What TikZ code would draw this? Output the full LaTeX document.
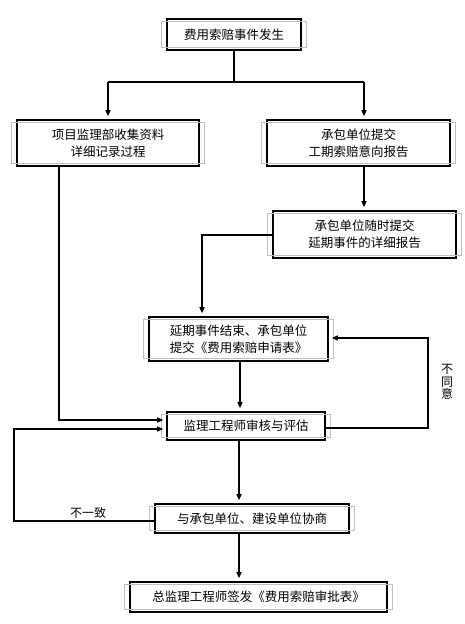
\documentclass[tikz,border=0pt]{standalone}
\usepackage{fontspec}
\setmainfont{Noto Sans CJK SC}
\usetikzlibrary{arrows.meta}
\begin{document}
\begin{tikzpicture}[x=1pt,y=-1pt,
  box/.style={draw=black, line width=2.6pt, fill=white, inner sep=0pt, align=center,
    font=\fontsize{12.5}{17}\selectfont},
  conn/.style={draw=black, line width=1.4pt},
  arr/.style={conn, -{Triangle[length=6pt,width=5pt]}, shorten >=2.5pt},
  lbl/.style={font=\fontsize{12}{12.5}\selectfont, inner sep=0pt, align=center}]
\useasboundingbox[fill=white] (0,0) rectangle (464,624);

\node[box, minimum width=134pt, minimum height=31pt] (b1) at (234,34.5) {费用索赔事件发生};
\node[box, minimum width=182pt, minimum height=46pt] (b2) at (108,143) {项目监理部收集资料\\详细记录过程};
\node[box, minimum width=183pt, minimum height=46pt] (b3) at (358.5,143) {承包单位提交\\工期索赔意向报告};
\node[box, minimum width=183pt, minimum height=47pt] (b4) at (364.5,234.5) {承包单位随时提交\\延期事件的详细报告};
\node[box, minimum width=179pt, minimum height=44pt] (b5) at (238.5,339) {延期事件结束、承包单位\\提交《费用索赔申请表》};
\node[box, minimum width=158pt, minimum height=28pt] (b6) at (246,426) {监理工程师审核与评估};
\node[box, minimum width=194pt, minimum height=29pt] (b7) at (252,518.5) {与承包单位、建设单位协商};
\node[box, minimum width=257pt, minimum height=30pt] (b8) at (258.5,597) {总监理工程师签发《费用索赔审批表》};

\foreach \n in {b1,b2,b3,b4,b5,b6,b7,b8}
  \draw[gray!50, line width=0.8pt] ([shift={(-4pt,-4pt)}]\n.north west) rectangle ([shift={(4pt,4pt)}]\n.south east);

\coordinate (jl) at (108,82);
\coordinate (jr) at (364,82);
\coordinate (c45) at (202,235);
\coordinate (c26) at (59,420);
\coordinate (x56) at (240,0);
\coordinate (x67) at (239,0);
\coordinate (r1) at (428,428);
\coordinate (r2) at (428,338);
\coordinate (l1) at (14,521);
\coordinate (l2) at (14,429);

\draw[conn] (b1.south) -- (b1.south |- jl);
\draw[conn] (jl) -- (jr);
\draw[arr] (jl) -- (b2.north -| jl);
\draw[arr] (jr) -- (b3.north -| jr);
\draw[arr] (b3.south -| jr) -- (b4.north -| jr);
\draw[arr] (b4.west |- c45) -- (c45) -- (b5.north -| c45);
\draw[arr] (b2.south -| c26) -- (c26) -- (b6.west |- c26);
\draw[arr] (b5.south -| x56) -- (b6.north -| x56);
\draw[arr] (b6.south -| x67) -- (b7.north -| x67);
\draw[arr] (b7.south -| x67) -- (b8.north -| x67);
\draw[arr] (b6.east |- r1) -- (r1) -- (r2) -- (b5.east |- r2);
\draw[arr] (b7.west |- l1) -- (l1) -- (l2) -- (b6.west |- l2);

\node[lbl] (t1) at (447,382) {不\\同\\意};
\node[lbl] (t2) at (88,513) {不一致};
\end{tikzpicture}
\end{document}
